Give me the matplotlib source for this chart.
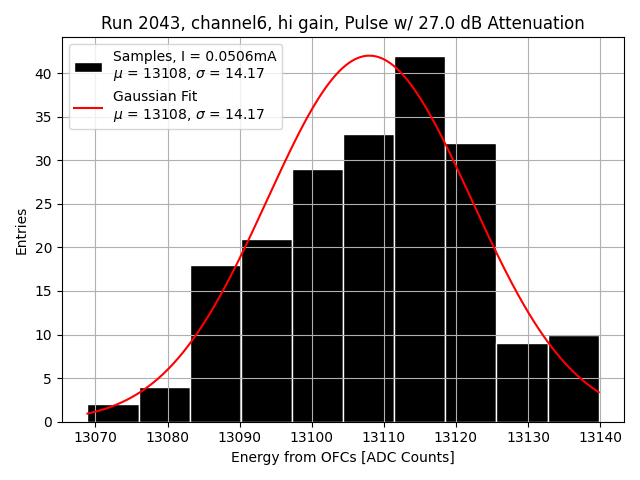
import numpy as np
import matplotlib
matplotlib.use("Agg")
import matplotlib.pyplot as plt

# histogram counts per bin
counts = [2, 4, 18, 21, 29, 33, 42, 32, 9, 10]
e_min = 13068.9
e_max = 13139.8

# gaussian fit parameters
amp = 42.0
mu = 13108
sigma = 14.17
current = 0.0506

edges = np.linspace(e_min, e_max, len(counts) + 1)
centers = 0.5 * (edges[:-1] + edges[1:])

fig, ax = plt.subplots(figsize=(6.4, 4.8))
ax.hist(centers, bins=edges, weights=counts, color="black", edgecolor="white",
        linewidth=1,
        label="Samples, I = %.4fmA\n$\\mu$ = %d, $\\sigma$ = %.2f" % (current, mu, sigma))

x = np.linspace(e_min, e_max, 300)
y = amp * np.exp(-(x - mu) ** 2 / (2 * sigma ** 2))
ax.plot(x, y, color="red", label="Gaussian Fit\n$\\mu$ = %d, $\\sigma$ = %.2f" % (mu, sigma))

ax.set_title("Run 2043, channel6, hi gain, Pulse w/ 27.0 dB Attenuation")
ax.set_xlabel("Energy from OFCs [ADC Counts]")
ax.set_ylabel("Entries")
ax.grid(True)
ax.legend(loc="upper left")
fig.tight_layout()
fig.savefig("out.png", dpi=100)
